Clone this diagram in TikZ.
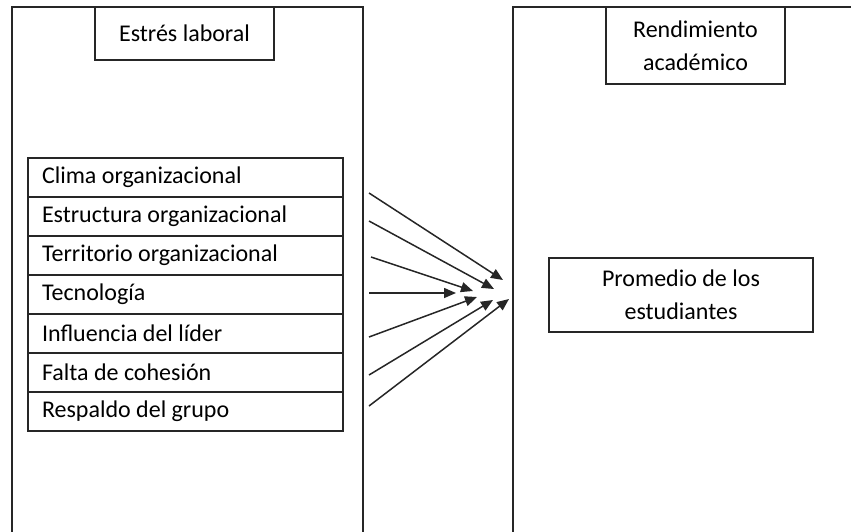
\documentclass[tikz,border=0pt]{standalone}
\usepackage{fontspec}
\setmainfont{Carlito}
\usetikzlibrary{arrows.meta}
\begin{document}
\begin{tikzpicture}[x=0.5pt,y=-0.5pt]
          \tikzstyle{every node}=[draw=black!85,line width=0.75pt,shape=rectangle,font=\fontsize{12}{16.5}\selectfont];
          \tikzstyle{item}=[minimum width=157.5pt,minimum height=19.5pt,inner xsep=7pt,text width=143.5pt,align=flush left];
          \tikzstyle{head}=[minimum width=89.5pt,align=center];
          \tikzstyle{arrow}=[draw=black!85,line width=0.75pt,-{Triangle[length=6pt,width=5pt]}];
          \clip (0,0) rectangle (851,531);
          %\node (name) at (x,y) [style] {text};
          % the two big frames, open at the bottom
          \node (left) at (187.5,290) [minimum width=175.5pt,minimum height=283pt] {};
          \node (right) at (710,290) [minimum width=197pt,minimum height=283pt] {};
          \node (stress) at (184.5,33.5) [head,minimum height=26.5pt] {Estrés laboral};
          \node (perf) at (695.5,45.5) [head,minimum height=38.5pt] {Rendimiento\\académico};
          \node (avg) at (681,295) [minimum width=132pt,minimum height=37pt,align=center] {Promedio de los\\estudiantes};
          % the seven stressors
          \node (1) at (185.5,177.5) [item] {Clima organizacional};
          \node (2) at (185.5,216.5) [item] {Estructura organizacional};
          \node (3) at (185.5,255.5) [item] {Territorio organizacional};
          \node (4) at (185.5,294.5) [item] {Tecnología};
          \node (5) at (185.5,333.5) [item] {Influencia del líder};
          \node (6) at (185.5,372.5) [item] {Falta de cohesión};
          \node (7) at (185.5,411.5) [item] {Respaldo del grupo};
          % arrow ends
          \coordinate (s1) at (369,193); \coordinate (e1) at (503,280);
          \coordinate (s2) at (369,221); \coordinate (e2) at (494,289);
          \coordinate (s3) at (371,257); \coordinate (e3) at (473,291);
          \coordinate (s4) at (369,293); \coordinate (e4) at (456,293);
          \coordinate (s5) at (369,337); \coordinate (e5) at (477,297);
          \coordinate (s6) at (369,375); \coordinate (e6) at (493,300);
          \coordinate (s7) at (369,406); \coordinate (e7) at (509,299);
          \draw[arrow] (s1)--(e1);
          \draw[arrow] (s2)--(e2);
          \draw[arrow] (s3)--(e3);
          \draw[arrow] (s4)--(e4);
          \draw[arrow] (s5)--(e5);
          \draw[arrow] (s6)--(e6);
          \draw[arrow] (s7)--(e7);
      \end{tikzpicture}
\end{document}
